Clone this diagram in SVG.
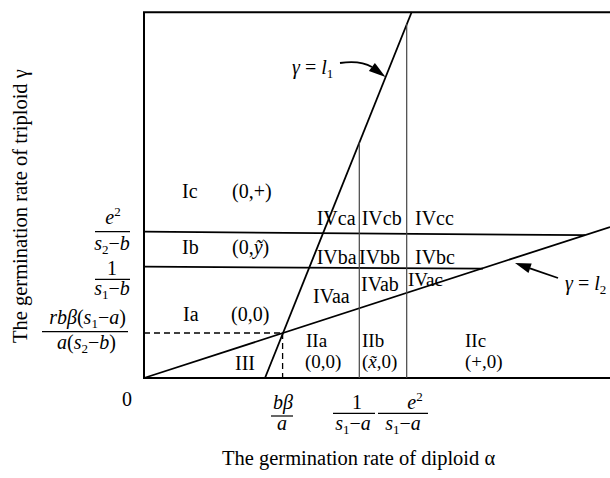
<svg xmlns="http://www.w3.org/2000/svg" width="610" height="478" viewBox="0 0 610 478">
<style>
text{font-family:"Liberation Serif","Times New Roman",serif;font-size:20px;fill:#000}
.r2{font-size:19px}
.i{font-style:italic}
.sb{font-size:13px}
.t{font-size:20.5px}
.ax{stroke:#000;stroke-width:2;fill:none}
.ln{stroke:#000;stroke-width:1.8;fill:none}
.vl{stroke:#444;stroke-width:1.2;fill:none}
.dash{stroke:#000;stroke-width:1.3;stroke-dasharray:6 4;fill:none}
.bar{stroke:#000;stroke-width:1.2}
</style>
<g id="frame">
<path class="ax" d="M610,12.3 H144 V378 H610"/>
</g>
<g id="connectors">
<line class="ln" x1="265" y1="378" x2="411.7" y2="12"/>
<line class="ln" x1="144" y1="378" x2="610" y2="227"/>
<line class="ln" x1="144" y1="231.7" x2="585" y2="235.2"/>
<line class="ln" x1="144" y1="266.7" x2="483" y2="268.6"/>
<line class="vl" x1="359.3" y1="142.5" x2="359.3" y2="378"/>
<line class="vl" x1="406.7" y1="24" x2="406.7" y2="378"/>
<line class="dash" x1="144" y1="333" x2="283" y2="333"/>
<line class="dash" x1="282.6" y1="333" x2="282.6" y2="378"/>
<path class="ln" d="M340,63 Q360,60 372,67" stroke-width="1.5"/>
<polygon points="385.5,77 374.9,62.9 368.9,70.9" fill="#000"/>
<line class="ln" x1="558" y1="278" x2="530" y2="268.3" stroke-width="1.8"/>
<polygon points="515,263 531.7,263.6 528.5,273" fill="#000"/>
</g>
<g id="regions">
<text x="182" y="198">Ic</text>
<text x="232" y="198">(0,+)</text>
<text x="182" y="254">Ib</text>
<text x="232" y="254">(0,<tspan class="i">ỹ</tspan>)</text>
<text x="183" y="321">Ia</text>
<text x="231" y="321">(0,0)</text>
<text x="235" y="370">III</text>
<text class="r2" x="306" y="346.5">IIa</text>
<text class="r2" x="305" y="368">(0,0)</text>
<text class="r2" x="362" y="346.5">IIb</text>
<text class="r2" x="362" y="368">(<tspan class="i">x̃</tspan>,0)</text>
<text class="r2" x="465" y="346.5">IIc</text>
<text class="r2" x="465" y="368">(+,0)</text>
<text x="316.7" y="225">IVca</text>
<text x="361.7" y="225">IVcb</text>
<text x="415" y="225">IVcc</text>
<text x="316.7" y="264">IVba</text>
<text x="359" y="264">IVbb</text>
<text x="415" y="264">IVbc</text>
<text x="313" y="303">IVaa</text>
<text x="361" y="291">IVab</text>
<text class="r2" x="408" y="286">IVac</text>
</g>
<g id="line-labels">
<text x="292" y="74"><tspan class="i">γ</tspan> = <tspan class="i">l</tspan><tspan class="sb" dy="4">1</tspan></text>
<text x="565" y="290"><tspan class="i">γ</tspan> = <tspan class="i">l</tspan><tspan class="sb" dy="4">2</tspan></text>
</g>
<g id="y-ticks">
<text x="113" y="224" text-anchor="middle"><tspan class="i">e</tspan><tspan class="sb" dy="-8">2</tspan></text>
<line class="bar" x1="95" y1="231.7" x2="130" y2="231.7"/>
<text x="112" y="250" text-anchor="middle"><tspan class="i">s</tspan><tspan class="sb" dy="4">2</tspan><tspan dy="-4">−</tspan><tspan class="i">b</tspan></text>
<text x="112" y="275" text-anchor="middle">1</text>
<line class="bar" x1="95" y1="279.3" x2="130" y2="279.3"/>
<text x="112" y="295" text-anchor="middle"><tspan class="i">s</tspan><tspan class="sb" dy="4">1</tspan><tspan dy="-4">−</tspan><tspan class="i">b</tspan></text>
<text x="87.5" y="324" text-anchor="middle"><tspan class="i">rbβ</tspan>(<tspan class="i">s</tspan><tspan class="sb" dy="4">1</tspan><tspan dy="-4">−</tspan><tspan class="i">a</tspan>)</text>
<line class="bar" x1="42" y1="331.7" x2="128" y2="331.7"/>
<text x="86.5" y="349" text-anchor="middle"><tspan class="i">a</tspan>(<tspan class="i">s</tspan><tspan class="sb" dy="4">2</tspan><tspan dy="-4">−</tspan><tspan class="i">b</tspan>)</text>
<text x="127" y="406" text-anchor="middle">0</text>
</g>
<g id="x-ticks">
<text x="283" y="409" text-anchor="middle" class="i">bβ</text>
<line class="bar" x1="271" y1="416" x2="293" y2="416"/>
<text x="282" y="430" text-anchor="middle" class="i">a</text>
<text x="357" y="409" text-anchor="middle">1</text>
<line class="bar" x1="333" y1="413.3" x2="375" y2="413.3"/>
<text x="353" y="430" text-anchor="middle"><tspan class="i">s</tspan><tspan class="sb" dy="4">1</tspan><tspan dy="-4">−</tspan><tspan class="i">a</tspan></text>
<text x="415" y="409" text-anchor="middle"><tspan class="i">e</tspan><tspan class="sb" dy="-8">2</tspan></text>
<line class="bar" x1="378" y1="413.3" x2="428" y2="413.3"/>
<text x="403" y="430" text-anchor="middle"><tspan class="i">s</tspan><tspan class="sb" dy="4">1</tspan><tspan dy="-4">−</tspan><tspan class="i">a</tspan></text>
</g>
<g id="axis-titles">
<text class="t" x="222" y="465">The germination rate of diploid α</text>
<text class="t" transform="translate(27,343) rotate(-90)">The germination rate of triploid γ</text>
</g>
</svg>
